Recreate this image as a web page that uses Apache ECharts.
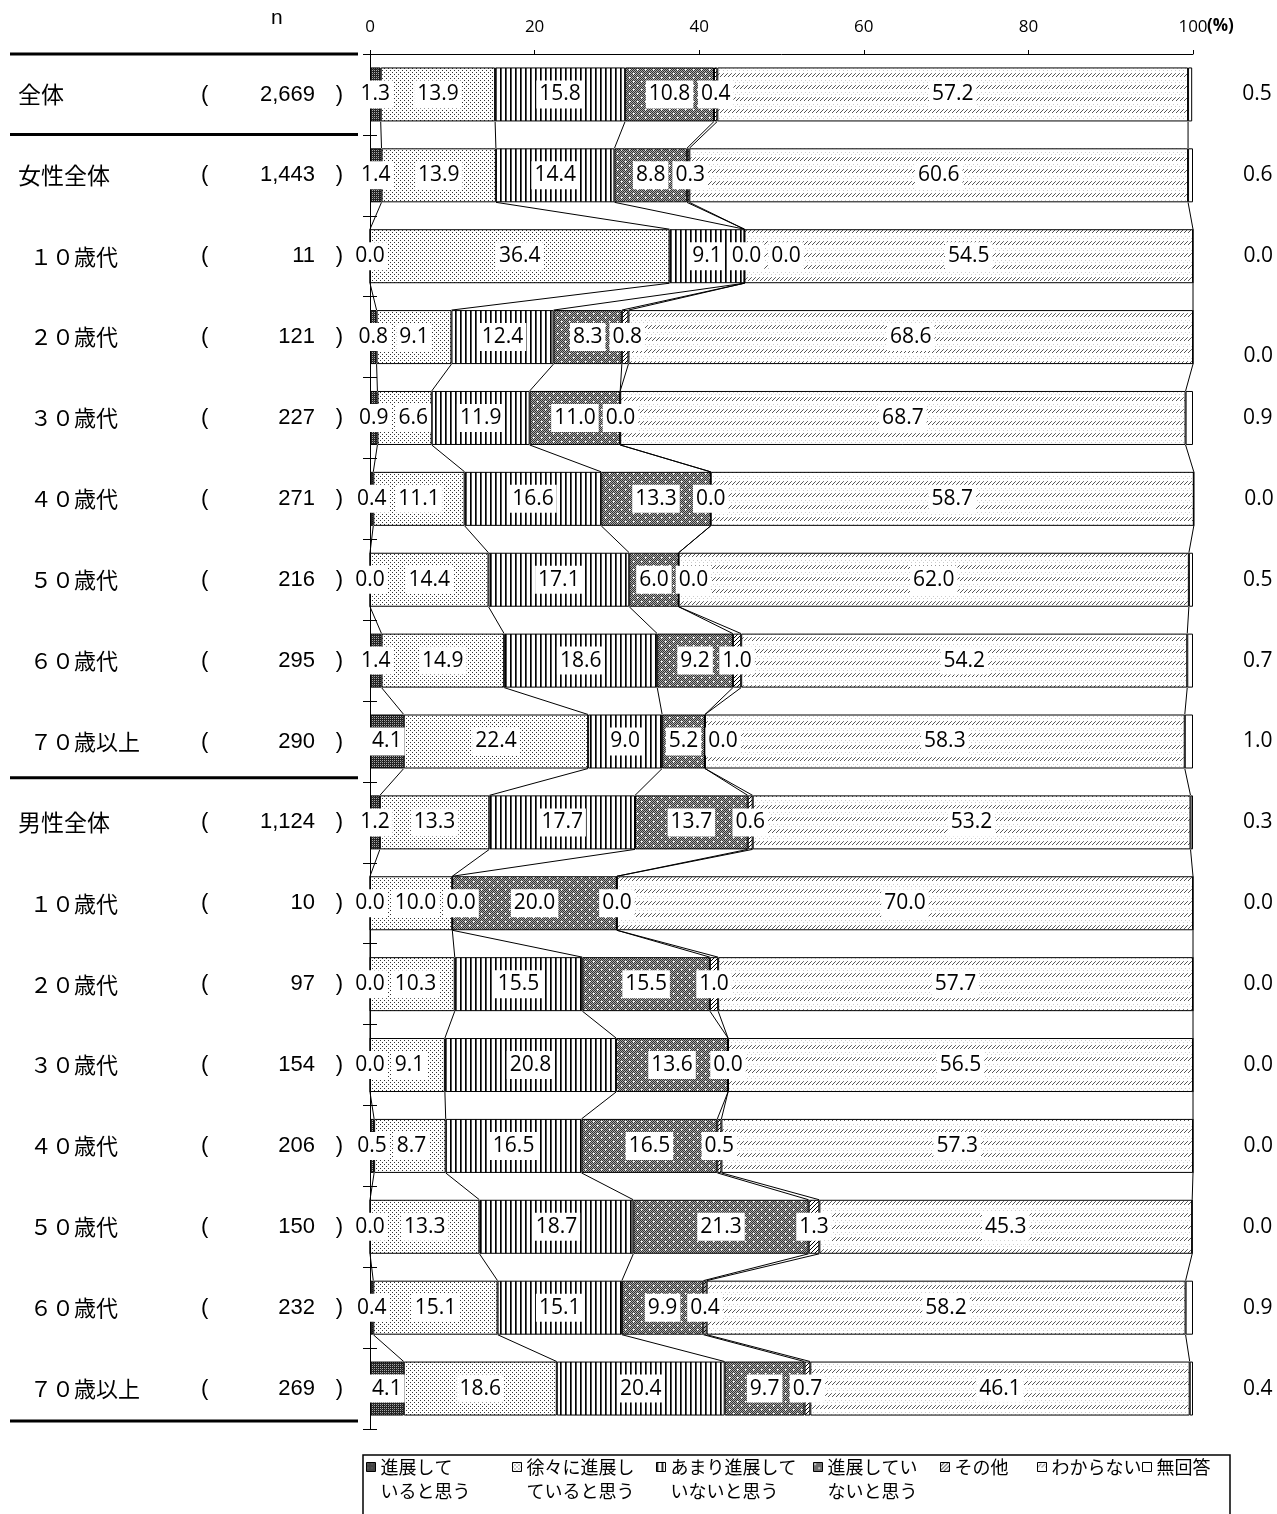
<!DOCTYPE html>
<html><head><meta charset="utf-8">
<script src="https://cdn.jsdelivr.net/npm/echarts@6/dist/echarts.min.js"></script>
<style>html,body{margin:0;padding:0;background:#fff}#c{width:1277px;height:1514px}</style>
</head><body><div id="c"></div>
<script>
// ---------- data ----------
const rowNames = ['全体','女性全体','１０歳代','２０歳代','３０歳代','４０歳代','５０歳代','６０歳代','７０歳以上','男性全体','１０歳代','２０歳代','３０歳代','４０歳代','５０歳代','６０歳代','７０歳以上'];
const rowIsGroup = [true,true,false,false,false,false,false,false,false,true,false,false,false,false,false,false,false];
const rowN = ['2,669','1,443','11','121','227','271','216','295','290','1,124','10','97','154','206','150','232','269'];
const seriesNames = ['進展していると思う','徐々に進展していると思う','あまり進展していないと思う','進展していないと思う','その他','わからない','無回答'];
const sProgress  = [1.3,1.4,0.0,0.8,0.9,0.4,0.0,1.4,4.1,1.2,0.0,0.0,0.0,0.5,0.0,0.4,4.1];
const sGradual   = [13.9,13.9,36.4,9.1,6.6,11.1,14.4,14.9,22.4,13.3,10.0,10.3,9.1,8.7,13.3,15.1,18.6];
const sLittle    = [15.8,14.4,9.1,12.4,11.9,16.6,17.1,18.6,9.0,17.7,0.0,15.5,20.8,16.5,18.7,15.1,20.4];
const sNot       = [10.8,8.8,0.0,8.3,11.0,13.3,6.0,9.2,5.2,13.7,20.0,15.5,13.6,16.5,21.3,9.9,9.7];
const sOther     = [0.4,0.3,0.0,0.8,0.0,0.0,0.0,1.0,0.0,0.6,0.0,1.0,0.0,0.5,1.3,0.4,0.7];
const sUnknown   = [57.2,60.6,54.5,68.6,68.7,58.7,62.0,54.2,58.3,53.2,70.0,57.7,56.5,57.3,45.3,58.2,46.1];
const sNoAnswer  = [0.5,0.6,0.0,0.0,0.9,0.0,0.5,0.7,1.0,0.3,0.0,0.0,0.0,0.0,0.0,0.9,0.4];
const xMin = 0, xMax = 100, xStep = 20;
// ---------------------------

const allSeries = [sProgress,sGradual,sLittle,sNot,sOther,sUnknown,sNoAnswer];
const CJK = '"Noto Sans CJK JP","Noto Sans",sans-serif';
const NUM = '"Open Sans","Noto Sans",sans-serif';
const ARIAL = '"Liberation Sans",Arial,sans-serif';
const BAR_W = 54;
const LABEL_FS = 21, LABEL_PAD = [2, 3];

function pat(w, h, draw) {
  const c = document.createElement('canvas'); c.width = w; c.height = h;
  const ctx = c.getContext('2d'); draw(ctx, w, h);
  return { image: c, repeat: 'repeat' };
}
function px(ctx, x, y, col) { ctx.fillStyle = col; ctx.fillRect(x, y, 1, 1); }

const patterns = [
  // dark checker
  pat(4, 4, (ctx) => { ctx.fillStyle = '#222'; ctx.fillRect(0,0,4,4);
    px(ctx,0,0,'#aaa'); px(ctx,2,0,'#aaa'); px(ctx,0,2,'#aaa'); px(ctx,2,2,'#aaa'); px(ctx,1,1,'#555'); }),
  // sparse dots
  pat(4, 4, (ctx) => { ctx.fillStyle = '#fff'; ctx.fillRect(0,0,4,4);
    px(ctx,0,0,'#333'); px(ctx,2,2,'#333'); }),
  // vertical lines
  pat(5, 4, (ctx) => { ctx.fillStyle = '#fff'; ctx.fillRect(0,0,5,4);
    ctx.fillStyle = '#000'; ctx.fillRect(0,0,1,4); ctx.fillStyle = '#555'; ctx.fillRect(1,0,1,4); }),
  // grey checker with white dots
  pat(8, 8, (ctx) => {
    for (let y = 0; y < 8; y++) for (let x = 0; x < 8; x++) px(ctx, x, y, (x + y) % 2 ? '#aaa' : '#333');
    [[1,1],[5,5]].forEach(([x,y]) => { px(ctx,x,y,'#fff'); px(ctx,x+1,y,'#eee'); px(ctx,x,y+1,'#eee'); });
  }),
  // diagonal hatch
  pat(4, 4, (ctx) => { ctx.fillStyle = '#fff'; ctx.fillRect(0,0,4,4);
    for (let i = 0; i < 4; i++) px(ctx, i, 3 - i, '#000'); }),
  // light diagonal dashes
  pat(4, 12, (ctx) => { ctx.fillStyle = '#fff'; ctx.fillRect(0,0,4,12);
    px(ctx,0,4,'#555'); px(ctx,1,3,'#555'); px(ctx,2,2,'#555'); px(ctx,3,1,'#777');
    px(ctx,1,8,'#ccc'); px(ctx,3,10,'#ccc'); }),
  '#ffffff'
];

function cumulative(i) {
  const out = []; let s = 0;
  for (let k = 0; k < 6; k++) { s += allSeries[k][i]; out.push(s); }
  return out;
}

const fmt1 = (v) => v.toFixed(1);

function buildSeries(labelDx) {
  const list = allSeries.map((arr, k) => {
    const isLast = k === 6;
    let data;
    if (isLast) {
      data = arr.map((v, i) => (i === 3 ? { value: v, label: { offset: [0, 19] } } : v));
    } else {
      data = arr.map((v, i) => (labelDx && labelDx[k][i] ? { value: v, label: { offset: [labelDx[k][i], 0] } } : v));
    }
    return {
      name: seriesNames[k], type: 'bar', stack: 'all', barWidth: BAR_W, z: 3, clip: false,
      xAxisIndex: 0, yAxisIndex: 0,
      itemStyle: { color: patterns[k], borderColor: '#000', borderWidth: 1 },
      label: isLast ? {
        show: true, position: 'right', distance: 50, color: '#000', fontFamily: NUM, fontSize: LABEL_FS,
        formatter: (p) => fmt1(p.value)
      } : {
        show: true, position: 'inside', color: '#000', fontFamily: NUM, fontSize: LABEL_FS,
        backgroundColor: '#fff', padding: LABEL_PAD, lineHeight: 24,
        formatter: (p) => fmt1(p.value)
      },
      emphasis: { disabled: true },
      data: data
    };
  });
  list.push({
    type: 'custom', coordinateSystem: 'cartesian2d', xAxisIndex: 0, yAxisIndex: 0, z: 1,
    silent: true,
    data: rowNames.map((_, i) => [0, i]),
    renderItem: (params, api) => {
      const i = api.value(1);
      if (i >= rowNames.length - 1) return null;
      const a = cumulative(i), b = cumulative(i + 1);
      const children = [];
      for (let k = 0; k < 6; k++) {
        const p1 = api.coord([a[k], i]), p2 = api.coord([b[k], i + 1]);
        children.push({ type: 'line', shape: { x1: p1[0], y1: p1[1] + BAR_W / 2, x2: p2[0], y2: p2[1] - BAR_W / 2 },
          style: { stroke: '#000', lineWidth: 1 } });
      }
      return { type: 'group', children };
    }
  });
  return list;
}

const legendLeft = [366, 512, 656, 813, 940, 1037, 1142];
const legendText = {
  '進展していると思う': '\n進展して\nいると思う',
  '徐々に進展していると思う': '\n徐々に進展し\nていると思う',
  'あまり進展していないと思う': '\nあまり進展して\nいないと思う',
  '進展していないと思う': '\n進展してい\nないと思う',
  'その他': 'その他', 'わからない': 'わからない', '無回答': '無回答'
};
const legends = seriesNames.map((nm, k) => ({
  data: [nm], left: legendLeft[k], top: k < 4 ? 1431 : 1455, orient: 'horizontal',
  itemWidth: 9, itemHeight: 9, padding: 0, itemGap: 0, icon: 'rect', selectedMode: false,
  itemStyle: { borderColor: '#000', borderWidth: 1 },
  formatter: (n) => legendText[n],
  textStyle: { fontFamily: CJK, fontSize: 18, color: '#000', lineHeight: 24 }
}));

const yLabelRich = {
  g: { width: 183, align: 'left', fontFamily: CJK, fontSize: 23, color: '#000' },
  sp: { width: 12, align: 'left', fontFamily: CJK, fontSize: 22 },
  s: { width: 171, align: 'left', fontFamily: CJK, fontSize: 22, color: '#000' },
  lp: { width: 22, align: 'left', fontFamily: ARIAL, fontSize: 22, color: '#000' },
  n: { width: 92, align: 'right', fontFamily: ARIAL, fontSize: 22, color: '#000' },
  rp: { width: 28, align: 'right', fontFamily: ARIAL, fontSize: 22, color: '#000' }
};

const option = {
  animation: false,
  backgroundColor: '#fff',
  textStyle: { fontFamily: NUM },
  title: [
    { text: 'n', left: 271, top: 8, padding: 0, textStyle: { fontFamily: ARIAL, fontSize: 21, fontWeight: 'normal', color: '#000' } },
    { text: '(%)', left: 1207, top: 18, padding: 0, textStyle: { fontFamily: NUM, fontSize: 17, fontWeight: 'bold', color: '#000' } }
  ],
  legend: legends,
  grid: { left: 370, right: 84, top: 54, height: 1375 },
  xAxis: {
    type: 'value', position: 'top', min: xMin, max: xMax, interval: xStep,
    axisLine: { show: true, lineStyle: { color: '#000', width: 1 } },
    axisTick: { show: true, length: 4, lineStyle: { color: '#000' } },
    splitLine: { show: false },
    axisLabel: { margin: 18, color: '#000', fontFamily: NUM, fontSize: 17 }
  },
  yAxis: [
    {
      type: 'category', inverse: true, position: 'left', data: rowNames,
      axisLine: { show: true, lineStyle: { color: '#000', width: 1 } },
      axisTick: { show: true, length: 7, lineStyle: { color: '#000' } },
      axisLabel: {
        margin: 27, interval: 0,
        formatter: (v, i) => (rowIsGroup[i] ? `{g|${rowNames[i]}}` : `{sp| }{s|${rowNames[i]}}`) + `{lp|(}{n|${rowN[i]}}{rp|)}`,
        rich: yLabelRich
      }
    },
    {
      type: 'category', inverse: true, position: 'left', data: rowNames,
      axisLine: { show: false },
      axisTick: { show: true, inside: true, length: 7, lineStyle: { color: '#000' } },
      axisLabel: { show: false }
    }
  ],
  series: buildSeries(null)
};

const chart = echarts.init(document.getElementById('c'), null, { renderer: 'canvas' });
chart.setOption(option);

// push overlapping in-bar labels to the right (measured with the label font, placed on the axis scale)
const x0 = chart.convertToPixel({ xAxisIndex: 0 }, xMin);
const ppu = (chart.convertToPixel({ xAxisIndex: 0 }, xMax) - x0) / (xMax - xMin);
const mctx = document.createElement('canvas').getContext('2d');
mctx.font = LABEL_FS + 'px ' + NUM;
const labelDx = allSeries.map(() => allSeries[0].map(() => 0));
const GAP = 4;
for (let i = 0; i < rowNames.length; i++) {
  let cum = 0, prevRight = -Infinity;
  for (let k = 0; k < 6; k++) {
    const v = allSeries[k][i];
    const w = mctx.measureText(fmt1(v)).width + LABEL_PAD[1] * 2;
    const center = x0 + (cum + v / 2) * ppu;
    let left = center - w / 2, dx = 0;
    if (left < prevRight + GAP && k > 0) dx = prevRight + GAP - left;
    labelDx[k][i] = dx;
    prevRight = left + dx + w;
    cum += v;
  }
}

// group separator lines on the left, placed on row boundaries from the category scale
const c0 = chart.convertToPixel({ yAxisIndex: 0 }, 0);
const c1 = chart.convertToPixel({ yAxisIndex: 0 }, 1);
const band = c1 - c0;
const sepAfter = [-1, 0, 8, 16];
const graphics = sepAfter.map((r) => {
  const y = chart.convertToPixel({ yAxisIndex: 0 }, Math.max(r, 0)) + (r < 0 ? -band / 2 : band / 2) - (r + 1) * 0.47;
  return { type: 'line', shape: { x1: 10, y1: y, x2: x0 - 12, y2: y }, style: { stroke: '#000', lineWidth: 3 }, z: 10 };
});
graphics.push({ type: 'rect', shape: { x: 363, y: 1455, width: 867, height: 70 }, style: { fill: 'none', stroke: '#000', lineWidth: 1.5 }, z: 10 });
chart.setOption({ graphic: graphics, series: buildSeries(labelDx) });
</script>
</body></html>
